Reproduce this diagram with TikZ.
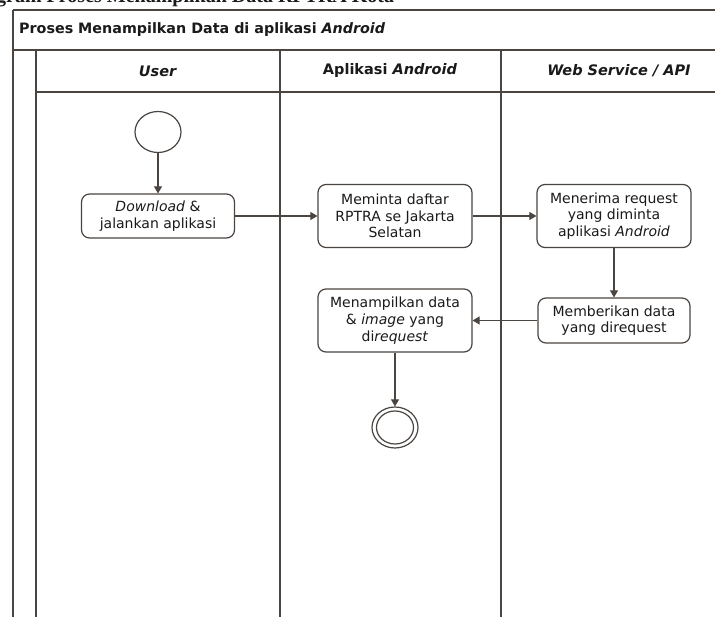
\documentclass[tikz,border=0pt]{standalone}
\usepackage{fontspec}
\setmainfont{DejaVu Sans}
\newfontfamily\capfont{Liberation Serif}
\usetikzlibrary{arrows.meta,shapes.geometric}
\definecolor{lc}{HTML}{4A4541}
\definecolor{tc}{HTML}{1A1A1A}
\begin{document}
\begin{tikzpicture}[x=1pt,y=-1pt,
  frame/.style={draw=lc, line width=1.2pt},
  act/.style={draw=lc, line width=1.2pt, rounded corners=8pt, align=center,
    text=tc, inner sep=2pt, font=\fontsize{14}{16.7}\selectfont},
  lanehead/.style={text=tc, font=\bfseries\fontsize{14.5}{17}\selectfont, inner sep=0pt},
  initnode/.style={ellipse, draw=lc, line width=1.2pt, minimum width=46pt, minimum height=41pt, inner sep=0pt},
  arr/.style={draw=lc, line width=1.1pt, -{Triangle[length=7pt,width=8pt]}}
]
\useasboundingbox (0,0) rectangle (715,617);
\fill[white] (0,0) rectangle (715,617);

% clipped caption at the very top
\node[anchor=base west, inner sep=0pt, text=tc,
  font=\capfont\bfseries\fontsize{20}{24}\selectfont] (cap) at (-34,3)
  {Diagram Proses Menampilkan Data RPTRA Kota};

% swimlane frame
\draw[frame] (13,10) -- (745,10);
\draw[frame] (13,10) -- (13,650);
\draw[frame] (13,50) -- (745,50);
\draw[frame] (36,50) -- (36,650);
\draw[frame] (36,92) -- (745,92);
\draw[frame] (280,50) -- (280,650);
\draw[frame] (501,50) -- (501,650);

\node[anchor=west, text=tc, inner sep=0pt, font=\bfseries\fontsize{14.3}{17}\selectfont] (title) at (19,30)
  {Proses Menampilkan Data di aplikasi \textit{Android}};
\node[lanehead] (hUser) at (158,71) {\textit{User}};
\node[lanehead] (hAndroid) at (390,71) {Aplikasi \textit{Android}};
\node[lanehead] (hWeb) at (619,71) {\textit{Web Service / API}};

% activities
\node[initnode] (start) at (158,132) {};
\node[act, minimum width=153pt, minimum height=44pt] (dl) at (158,216)
  {\textit{Download} \&\\jalankan aplikasi};
\node[act, minimum width=154pt, minimum height=63pt] (req) at (395,216)
  {Meminta daftar\\RPTRA se Jakarta\\Selatan};
\node[act, minimum width=154pt, minimum height=63pt] (recv) at (614,216)
  {Menerima request\\yang diminta\\aplikasi \textit{Android}};
\node[act, minimum width=152pt, minimum height=45pt] (give) at (614,320.5)
  {Memberikan data\\yang direquest};
\node[act, minimum width=154pt, minimum height=63pt] (show) at (395,320.5)
  {Menampilkan data\\\& \textit{image} yang\\di\textit{request}};
\node[initnode] (end) at (395,427.5) {};
\node[ellipse, draw=lc, line width=1.2pt, minimum width=37pt, minimum height=33pt, inner sep=0pt] (endin) at (end) {};

% flows
\draw[arr] (start) -- (dl);
\draw[arr] (dl) -- (req);
\draw[arr] (req) -- (recv);
\draw[arr] (recv) -- (give);
\draw[arr] (give) -- (show);
\draw[arr] (show) -- (end);
\end{tikzpicture}
\end{document}
